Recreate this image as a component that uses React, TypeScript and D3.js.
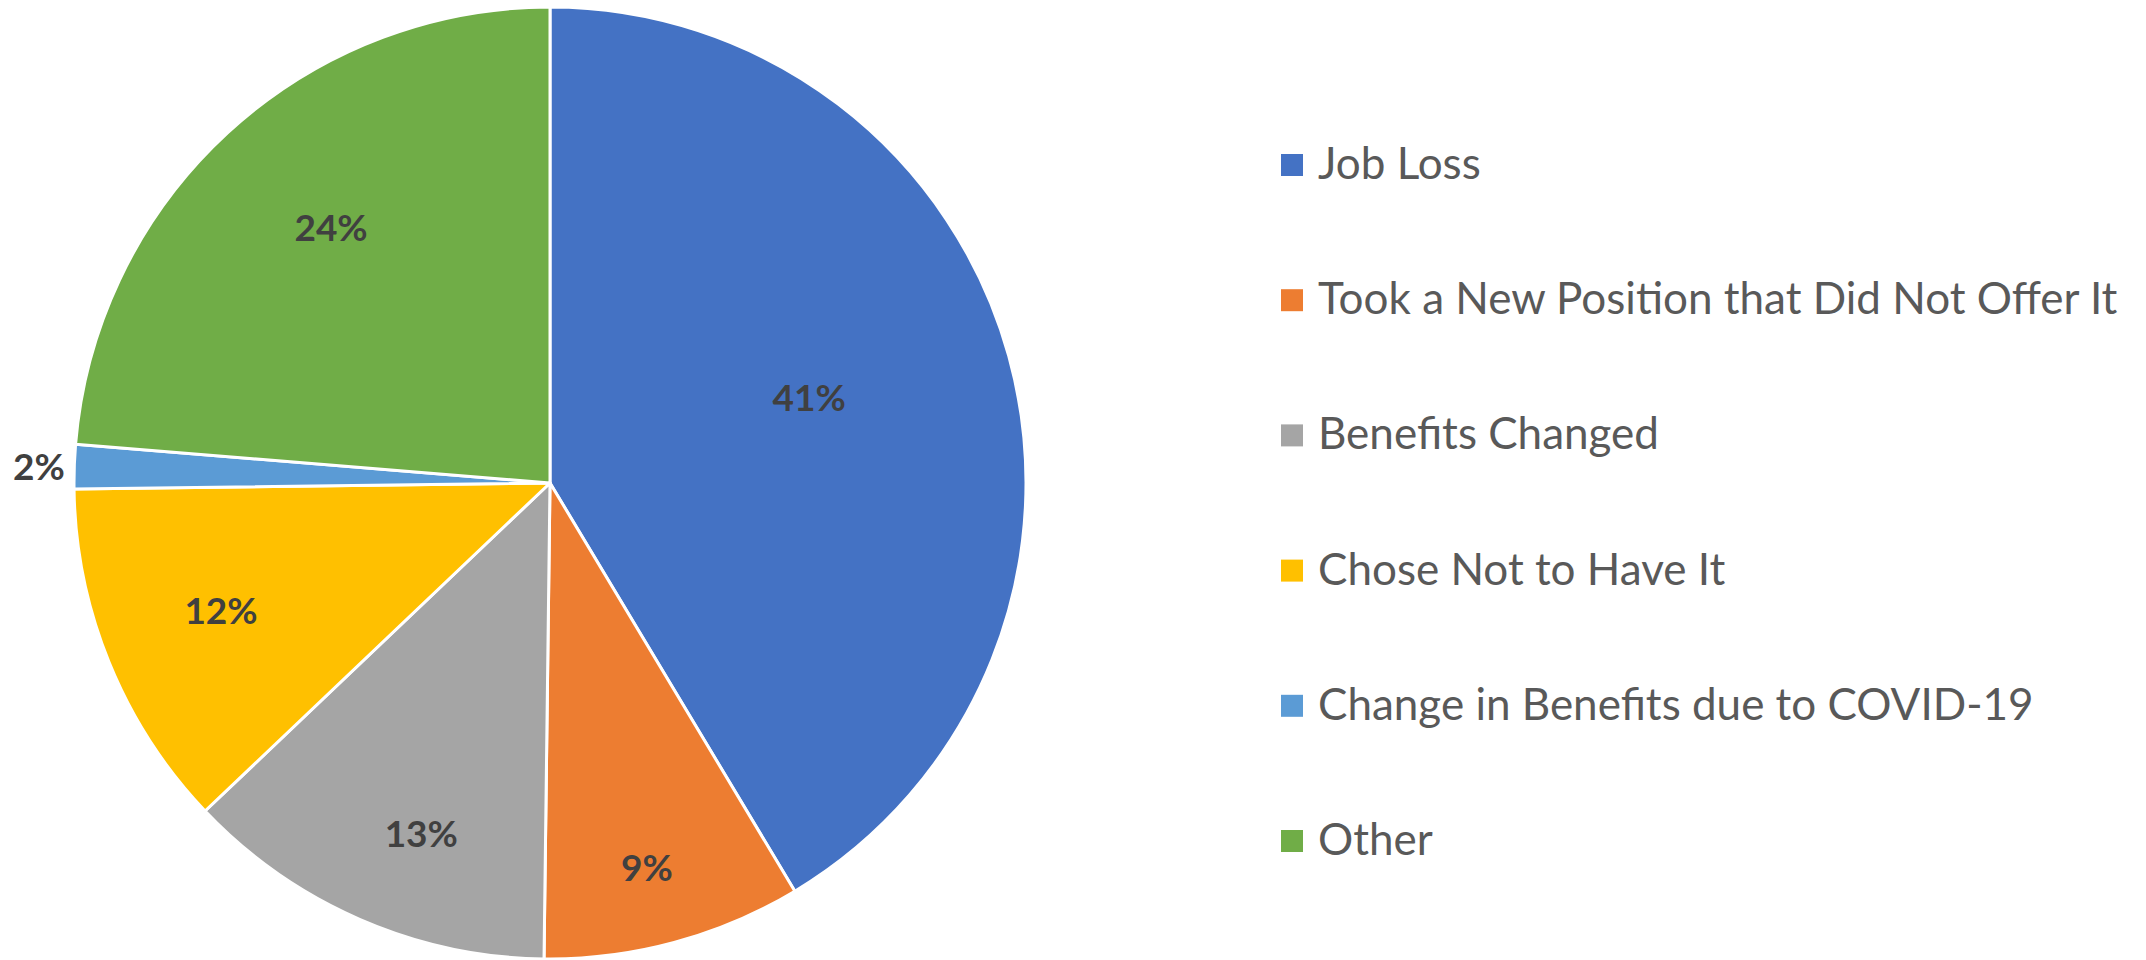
import React, { useEffect, useRef } from "react";
import * as d3 from "d3";

// reasons for losing coverage, share of respondents (%)
const categories = [
  "Job Loss",
  "Took a New Position that Did Not Offer It",
  "Benefits Changed",
  "Chose Not to Have It",
  "Change in Benefits due to COVID-19",
  "Other",
];
const shares = [41.4, 8.8, 12.7, 11.9, 1.5, 23.7];
const colors = ["#4472C4", "#ED7D31", "#A5A5A5", "#FFC000", "#5B9BD5", "#70AD47"];

// label placement (Excel "best fit"): fraction of radius, nudge in degrees
const labelRadius = [0.573, 0.834, 0.784, 0.741, 1.02, 0.706];
const labelNudge = [-2.7, 1.0, -3.4, 1.0, 0, 2.0];

const W = 2146;
const H = 960;
const cx = 550;
const cy = 483;
const R = 476;

const App = () => {
  const svgRef = useRef<SVGSVGElement | null>(null);

  useEffect(() => {
    const svg = d3.select(svgRef.current);
    svg.selectAll("*").remove();

    const pie = d3
      .pie<number>()
      .sort(null)
      .value((d) => d);
    const arcs = pie(shares);

    const arc = d3.arc<d3.PieArcDatum<number>>().innerRadius(0).outerRadius(R);

    const g = svg.append("g").attr("transform", `translate(${cx},${cy})`);

    g.selectAll("path")
      .data(arcs)
      .join("path")
      .attr("d", arc)
      .attr("fill", (d, i) => colors[i])
      .attr("stroke", "#fff")
      .attr("stroke-width", 3)
      .attr("stroke-linejoin", "round");

    g.selectAll("text.lbl")
      .data(arcs)
      .join("text")
      .attr("class", "lbl")
      .each(function (d, i) {
        const a = (d.startAngle + d.endAngle) / 2 + (labelNudge[i] * Math.PI) / 180;
        const r = R * labelRadius[i];
        const outside = labelRadius[i] > 1;
        d3.select(this)
          .attr("x", Math.sin(a) * r)
          .attr("y", -Math.cos(a) * r)
          .attr("dy", "0.36em")
          .attr("text-anchor", outside ? "end" : "middle");
      })
      .attr("font-family", "Lato, 'Open Sans', sans-serif")
      .attr("font-weight", 700)
      .attr("font-size", 37)
      .attr("fill", "#404040")
      .text((d) => `${Math.round(d.data)}%`);

    // legend
    const legendY = d3
      .scalePoint<string>()
      .domain(categories)
      .range([179, 179 + 135.2 * (categories.length - 1)]);

    const legend = svg
      .append("g")
      .selectAll("g")
      .data(categories)
      .join("g")
      .attr("transform", (d) => `translate(1281,${legendY(d)})`);

    legend
      .append("rect")
      .attr("x", 0)
      .attr("y", -25)
      .attr("width", 22)
      .attr("height", 22)
      .attr("fill", (d, i) => colors[i]);

    legend
      .append("text")
      .attr("x", 37)
      .attr("y", 0)
      .attr("font-family", "Lato, 'Open Sans', sans-serif")
      .attr("font-size", 44)
      .attr("fill", "#595959")
      .text((d) => d);
  }, []);

  return (
    <div style={{ position: "absolute", left: 0, top: 0, background: "#fff" }}>
      <svg ref={svgRef} width={W} height={H} style={{ display: "block" }} />
    </div>
  );
};

export default App;
